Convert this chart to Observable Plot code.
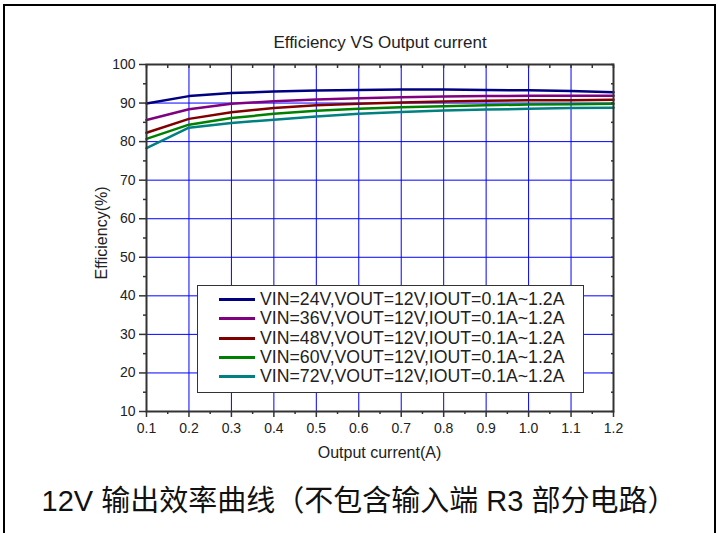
<!DOCTYPE html>
<html>
<head>
<meta charset="utf-8">
<script src="https://cdn.jsdelivr.net/npm/d3@7"></script>
<script src="https://cdn.jsdelivr.net/npm/@observablehq/plot@0.6"></script>
<style>
  html, body { margin: 0; padding: 0; background: #fff; }
  #wrap { position: relative; width: 718px; height: 533px; overflow: hidden; font-family: "Liberation Sans", Arial, sans-serif; }
  #border { position: absolute; left: 3px; top: 4px; width: 709px; height: 560px; border: 2px solid #000; }
  #chart { position: absolute; left: 0; top: 0; }
  .title { position: absolute; left: 0; width: 760px; text-align: center; top: 33px; font-size: 17px; color: #222; }
  .xlabel { position: absolute; left: 146px; width: 467px; text-align: center; top: 444px; font-size: 16px; color: #222; }
  .ylabel { position: absolute; left: 102px; top: 233px; font-size: 16px; color: #222; transform: translate(-50%, -50%) rotate(-90deg); white-space: nowrap; }
  #legend { position: absolute; left: 197px; top: 285px; width: 385px; height: 106px; border: 1px solid #333; background: #fff; }
  .row { position: absolute; left: 21px; height: 19px; display: flex; align-items: center; font-size: 17.7px; color: #222; white-space: nowrap; }
  .sw { width: 36px; height: 3px; margin-right: 5px; }
  .caption { position: absolute; left: 0; width: 718px; text-align: center; top: 477px; font-size: 29px; color: #111; font-family: "Liberation Sans", "Noto Sans CJK SC", sans-serif; white-space: nowrap; }
</style>
</head>
<body>
<div id="wrap">
  <div id="border"></div>
  <div id="chart"></div>
  <div class="title" id="title"></div>
  <div class="xlabel" id="xlabel"></div>
  <div class="ylabel" id="ylabel"></div>
  <div id="legend"></div>
  <div class="caption" id="caption"></div>
</div>
<script>
const current = [0.1, 0.2, 0.3, 0.4, 0.5, 0.6, 0.7, 0.8, 0.9, 1.0, 1.1, 1.2];
const vin24 = [89.9, 91.8, 92.6, 93.0, 93.25, 93.4, 93.5, 93.5, 93.4, 93.3, 93.15, 92.8];
const vin36 = [85.6, 88.4, 89.8, 90.5, 90.9, 91.25, 91.5, 91.7, 91.8, 91.9, 91.9, 91.9];
const vin48 = [82.3, 85.9, 87.6, 88.7, 89.4, 89.8, 90.15, 90.4, 90.6, 90.7, 90.75, 90.85];
const vin60 = [80.7, 84.4, 86.1, 87.2, 88.0, 88.5, 88.9, 89.2, 89.45, 89.6, 89.7, 89.8];
const vin72 = [78.3, 83.6, 84.8, 85.7, 86.5, 87.2, 87.7, 88.1, 88.3, 88.5, 88.7, 88.8];
const seriesNames = [
  "VIN=24V,VOUT=12V,IOUT=0.1A~1.2A",
  "VIN=36V,VOUT=12V,IOUT=0.1A~1.2A",
  "VIN=48V,VOUT=12V,IOUT=0.1A~1.2A",
  "VIN=60V,VOUT=12V,IOUT=0.1A~1.2A",
  "VIN=72V,VOUT=12V,IOUT=0.1A~1.2A"
];
const seriesValues = [vin24, vin36, vin48, vin60, vin72];
const seriesColors = ["#000080", "#800080", "#800000", "#008000", "#008080"];
const xTicks = [0.1, 0.2, 0.3, 0.4, 0.5, 0.6, 0.7, 0.8, 0.9, 1.0, 1.1, 1.2];
const xMinor = [0.15, 0.25, 0.35, 0.45, 0.55, 0.65, 0.75, 0.85, 0.95, 1.05, 1.15];
const yTicks = [10, 20, 30, 40, 50, 60, 70, 80, 90, 100];
const yMinor = [15, 25, 35, 45, 55, 65, 75, 85, 95];
const titleText = "Efficiency VS Output current";
const xLabelText = "Output current(A)";
const yLabelText = "Efficiency(%)";
const captionText = "12V 输出效率曲线（不包含输入端 R3 部分电路）";

const data = seriesNames.flatMap((name, i) =>
  current.map((c, j) => ({series: name, current: c, eff: seriesValues[i][j]})));

const axisColor = "#333";
const chart = Plot.plot({
  width: 718,
  height: 533,
  marginLeft: 146,
  marginRight: 105,
  marginTop: 64,
  marginBottom: 122,
  style: {fontFamily: "Liberation Sans, Arial, sans-serif", fontSize: "14px", color: "#222", background: "transparent"},
  x: {domain: [0.1, 1.2]},
  y: {domain: [10, 100]},
  color: {domain: seriesNames, range: seriesColors},
  marks: [
    Plot.gridX(xTicks.slice(1, -1), {stroke: "#0000ff", strokeOpacity: 1, strokeWidth: 1}),
    Plot.gridY(yTicks.slice(1, -1), {stroke: "#0000ff", strokeOpacity: 1, strokeWidth: 1}),
    Plot.line(data, {x: "current", y: "eff", stroke: "series", strokeWidth: 2.5, curve: "linear"}),
    Plot.frame({stroke: axisColor, strokeWidth: 2}),
    Plot.axisX(xTicks, {anchor: "bottom", tickSize: 6, tickPadding: 6, tickFormat: d => d.toFixed(1), label: null, stroke: axisColor, strokeWidth: 1.5, fontSize: 14}),
    Plot.axisX(xMinor, {anchor: "bottom", tickSize: 3, tickFormat: () => "", label: null, stroke: axisColor, strokeWidth: 1.5}),
    Plot.axisX(xTicks.concat(xMinor), {anchor: "top", tickSize: -3, tickFormat: () => "", label: null, stroke: axisColor, strokeWidth: 1.5}),
    Plot.axisY(yTicks, {anchor: "left", tickSize: 7, tickPadding: 4, label: null, stroke: axisColor, strokeWidth: 1.5, fontSize: 14}),
    Plot.axisY(yMinor, {anchor: "left", tickSize: 3, tickFormat: () => "", label: null, stroke: axisColor, strokeWidth: 1.5}),
    Plot.axisY(yTicks.concat(yMinor), {anchor: "right", tickSize: -3, tickFormat: () => "", label: null, stroke: axisColor, strokeWidth: 1.5})
  ]
});
document.getElementById("chart").appendChild(chart);
document.getElementById("title").textContent = titleText;
document.getElementById("xlabel").textContent = xLabelText;
document.getElementById("ylabel").textContent = yLabelText;
document.getElementById("caption").textContent = captionText;

const legend = document.getElementById("legend");
seriesNames.forEach((name, i) => {
  const row = document.createElement("div");
  row.className = "row";
  row.style.top = (4 + i * 19.3) + "px";
  const sw = document.createElement("div");
  sw.className = "sw";
  sw.style.background = seriesColors[i];
  const tx = document.createElement("span");
  tx.textContent = name;
  row.appendChild(sw);
  row.appendChild(tx);
  legend.appendChild(row);
});
</script>
</body>
</html>
